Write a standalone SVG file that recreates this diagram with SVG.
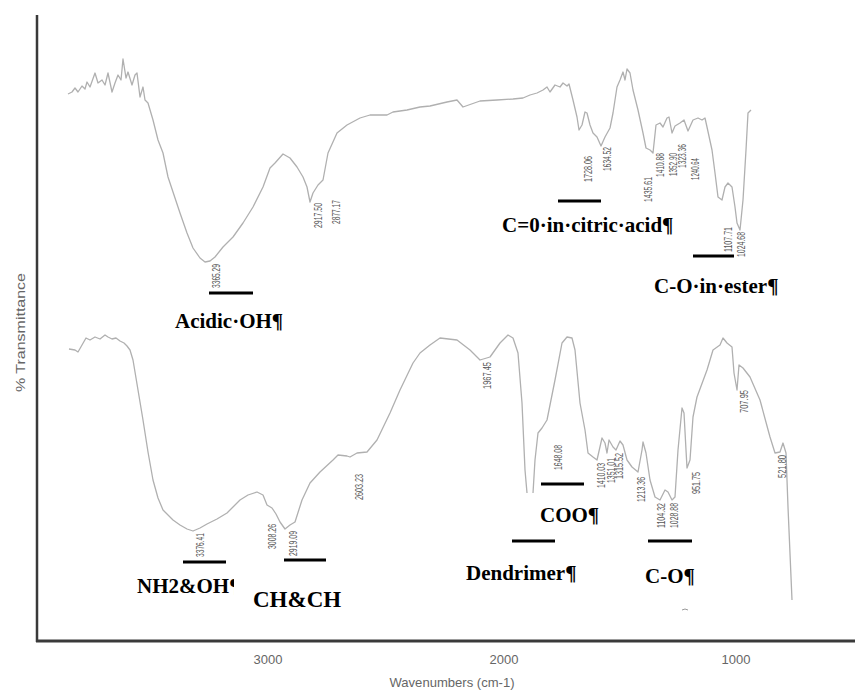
<svg xmlns="http://www.w3.org/2000/svg" width="855" height="691" viewBox="0 0 855 691">
<style>
.spec{fill:none;stroke:#b0b0b0;stroke-width:1.3;stroke-linejoin:round}
.axis{stroke:#3a3a3a;fill:none}
.bar{stroke:#000;stroke-width:3.2}
.pk{font-family:"Liberation Sans",Arial,sans-serif;font-size:10px;fill:#555}
.lbl{font-family:"Liberation Serif","Times New Roman",serif;font-weight:bold;font-size:21px;fill:#000}
.ax{font-family:"Liberation Sans",Arial,sans-serif;font-size:13px;fill:#666}
</style>
<defs>
<clipPath id="nhclip"><rect x="100" y="560" width="134" height="50"/></clipPath>
</defs>
<rect width="855" height="691" fill="#fff"/>

<g id="axes">
<line class="axis" x1="37" y1="15" x2="37" y2="642" stroke-width="2.5"/>
<line class="axis" x1="36" y1="641" x2="855" y2="641" stroke-width="3"/>
<text class="ax" x="268" y="664" text-anchor="middle">3000</text>
<text class="ax" x="504" y="664" text-anchor="middle">2000</text>
<text class="ax" x="736" y="664" text-anchor="middle">1000</text>
<text class="ax" x="452" y="687" text-anchor="middle" textLength="125" lengthAdjust="spacingAndGlyphs">Wavenumbers (cm-1)</text>
<text class="ax" transform="translate(25,392) rotate(-90)" textLength="119" lengthAdjust="spacingAndGlyphs">% Transmittance</text>
</g>

<g id="spectrum-top">
<path class="spec" d="M68,94 L72,92 L75,88 L78,92 L82,86 L85,89 L87,82 L90,87 L95,73 L98,83 L102,80 L105,85 L108,73 L112,92 L115,83 L118,75 L121,80 L123,59 L126,78 L128,72 L132,85 L135,75 L137,73 L140,97 L143,87 L145,100 L148,103 L153,120 L158,140 L163,153 L168,177 L173,192 L180,213 L187,233 L193,248 L200,258 L205,262 L210,261 L215,257 L223,247 L233,237 L243,223 L253,207 L263,187 L270,168 L275,163 L283,154 L290,158 L297,167 L303,177 L307,187 L310,202 L313,193 L318,185 L323,180 L328,153 L337,133 L347,125 L360,118 L370,115 L387,115 L393,112 L407,110 L420,107 L430,106 L447,102 L457,100 L463,107 L480,101 L497,100 L513,99 L523,98 L530,95 L537,93 L543,90 L547,87 L550,92 L555,85 L560,87 L563,83 L567,86 L569,84 L573,100 L577,117 L579,130 L582,125 L585,112 L587,113 L590,125 L593,133 L597,137 L601,146 L605,137 L610,128 L613,113 L617,87 L620,80 L623,72 L625,80 L627,69 L630,73 L633,90 L638,110 L643,133 L646,148 L650,150 L653,153 L656,125 L660,123 L663,127 L667,118 L669,117 L672,133 L675,126 L680,123 L684,120 L688,131 L693,120 L698,118 L702,120 L705,118 L707,127 L712,150 L715,173 L718,197 L722,200 L725,187 L728,183 L732,187 L735,207 L737,223 L740,230 L743,200 L746,150 L748,113 L751,110"/>
<g class="pk">
<text transform="translate(220,288) rotate(-90)" textLength="24" lengthAdjust="spacingAndGlyphs">3365.29</text>
<text transform="translate(322,228) rotate(-90)" textLength="25" lengthAdjust="spacingAndGlyphs">2917.50</text>
<text transform="translate(340,224) rotate(-90)" textLength="24" lengthAdjust="spacingAndGlyphs">2877.17</text>
<text transform="translate(592,182) rotate(-90)" textLength="26" lengthAdjust="spacingAndGlyphs">1728.06</text>
<text transform="translate(611,171) rotate(-90)" textLength="24" lengthAdjust="spacingAndGlyphs">1634.52</text>
<text transform="translate(652,202) rotate(-90)" textLength="25" lengthAdjust="spacingAndGlyphs">1435.61</text>
<text transform="translate(664,177) rotate(-90)" textLength="24" lengthAdjust="spacingAndGlyphs">1410.88</text>
<text transform="translate(677,176) rotate(-90)" textLength="23" lengthAdjust="spacingAndGlyphs">1352.90</text>
<text transform="translate(686,168) rotate(-90)" textLength="24" lengthAdjust="spacingAndGlyphs">1323.36</text>
<text transform="translate(699,180) rotate(-90)" textLength="22" lengthAdjust="spacingAndGlyphs">1240.64</text>
<text transform="translate(732,252) rotate(-90)" textLength="25" lengthAdjust="spacingAndGlyphs">1107.71</text>
<text transform="translate(745,257) rotate(-90)" textLength="25" lengthAdjust="spacingAndGlyphs">1024.68</text>
</g>
</g>

<g id="spectrum-bottom">
<path class="spec" d="M69,349 L75,350 L78,352 L82,345 L86,338 L90,340 L95,337 L100,339 L105,335 L108,337 L112,339 L116,338 L120,341 L124,343 L127,346 L130,350 L133,360 L138,390 L143,420 L148,452 L153,480 L158,498 L163,510 L173,520 L180,525 L187,529 L193,531 L200,528 L207,524 L217,519 L227,513 L233,507 L240,500 L248,495 L257,492 L263,495 L267,505 L272,508 L276,514 L280,522 L285,529 L290,525 L295,522 L302,500 L310,483 L320,472 L333,460 L338,455 L347,456 L350,457 L357,453 L367,452 L377,440 L390,413 L400,390 L413,363 L420,353 L430,345 L440,338 L457,340 L470,350 L480,360 L490,357 L500,343 L508,335 L513,338 L518,353 L522,403 L525,470 L527,493"/>
<path class="spec" d="M533,493 L535,460 L538,433 L542,428 L547,420 L555,380 L562,343 L567,337 L572,338 L575,350 L580,403 L585,430 L588,453 L593,457 L597,460 L602,438 L605,443 L607,453 L609,440 L613,447 L616,450 L620,441 L623,445 L627,460 L632,467 L638,472 L642,450 L643,442 L646,453 L650,480 L655,497 L660,500 L665,490 L668,492 L672,500 L675,497 L678,450 L682,408 L684,413 L686,450 L687,468 L690,460 L693,417 L697,397 L707,370 L713,350 L720,345 L723,338 L727,343 L732,347 L734,373 L737,390 L739,365 L743,368 L750,377 L760,400 L770,437 L775,453 L780,452 L783,443 L786,453 L788,507 L792,600"/>
<path d="M682,610 q3,-2 6,0" fill="none" stroke="#999" stroke-width="1"/>
<g class="pk">
<text transform="translate(204,557) rotate(-90)" textLength="24" lengthAdjust="spacingAndGlyphs">3376.41</text>
<text transform="translate(276,549) rotate(-90)" textLength="25" lengthAdjust="spacingAndGlyphs">3008.26</text>
<text transform="translate(297,556) rotate(-90)" textLength="25" lengthAdjust="spacingAndGlyphs">2919.09</text>
<text transform="translate(363,500) rotate(-90)" textLength="26" lengthAdjust="spacingAndGlyphs">2603.23</text>
<text transform="translate(491,389) rotate(-90)" textLength="27" lengthAdjust="spacingAndGlyphs">1967.45</text>
<text transform="translate(562,470) rotate(-90)" textLength="25" lengthAdjust="spacingAndGlyphs">1648.08</text>
<text transform="translate(605,488) rotate(-90)" textLength="25" lengthAdjust="spacingAndGlyphs">1410.03</text>
<text transform="translate(615,483) rotate(-90)" textLength="25" lengthAdjust="spacingAndGlyphs">1351.01</text>
<text transform="translate(623,479) rotate(-90)" textLength="26" lengthAdjust="spacingAndGlyphs">1315.52</text>
<text transform="translate(645,502) rotate(-90)" textLength="25" lengthAdjust="spacingAndGlyphs">1213.36</text>
<text transform="translate(665,528) rotate(-90)" textLength="25" lengthAdjust="spacingAndGlyphs">1104.32</text>
<text transform="translate(678,528) rotate(-90)" textLength="25" lengthAdjust="spacingAndGlyphs">1028.88</text>
<text transform="translate(700,494) rotate(-90)" textLength="22" lengthAdjust="spacingAndGlyphs">951.75</text>
<text transform="translate(748,413) rotate(-90)" textLength="23" lengthAdjust="spacingAndGlyphs">707.95</text>
<text transform="translate(786,478) rotate(-90)" textLength="23" lengthAdjust="spacingAndGlyphs">521.80</text>
</g>
</g>

<g id="annotations">
<g id="acidic-oh">
<line class="bar" x1="209" y1="293" x2="253" y2="293"/>
<text class="lbl" x="175" y="328">Acidic·OH¶</text>
</g>
<g id="c0-citric">
<line class="bar" x1="558" y1="201" x2="601" y2="201"/>
<text class="lbl" x="502" y="232">C=0·in·citric·acid¶</text>
</g>
<g id="co-ester">
<line class="bar" x1="693" y1="256" x2="734" y2="256"/>
<text class="lbl" x="654" y="293">C-O·in·ester¶</text>
</g>
<g id="nh2-oh">
<line class="bar" x1="183" y1="562" x2="226" y2="562"/>
<text class="lbl" x="137" y="593" clip-path="url(#nhclip)">NH2&amp;OH¶</text>
</g>
<g id="ch-ch">
<line class="bar" x1="284" y1="560" x2="326" y2="560"/>
<text class="lbl" x="253" y="607" style="font-size:23px">CH&amp;CH</text>
</g>
<g id="coo">
<line class="bar" x1="541" y1="484" x2="584" y2="484"/>
<text class="lbl" x="540" y="522">COO¶</text>
</g>
<g id="dendrimer">
<line class="bar" x1="512" y1="541" x2="555" y2="541"/>
<text class="lbl" x="466" y="580">Dendrimer¶</text>
</g>
<g id="c-o">
<line class="bar" x1="648" y1="541" x2="692" y2="541"/>
<text class="lbl" x="645" y="583">C-O¶</text>
</g>
</g>
</svg>
